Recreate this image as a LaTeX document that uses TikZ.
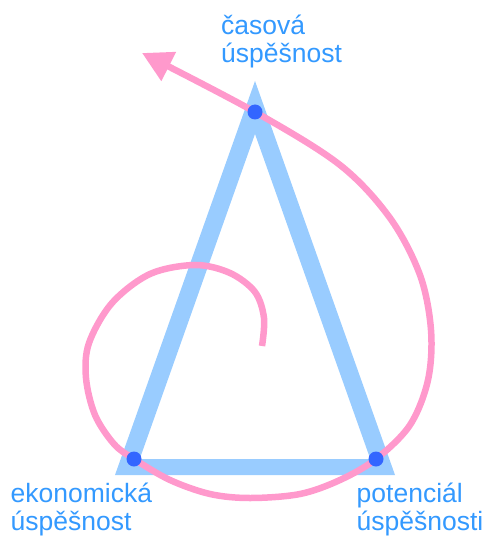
\documentclass[tikz,border=0pt]{standalone}
\usepackage{fontspec}
\setmainfont{Liberation Sans}
\usepackage{xcolor}
\usetikzlibrary{arrows.meta}
\definecolor{barblue}{HTML}{99CCFF}
\definecolor{dotblue}{HTML}{3366FF}
\definecolor{txtblue}{HTML}{3399FF}
\definecolor{spiralpink}{HTML}{FF99CC}

\begin{document}
\begin{tikzpicture}[x=1pt, y=-1pt,
  label_txt/.style={anchor=base west, align=left, inner sep=0pt, text=txtblue, font=\fontsize{26.5}{28}\selectfont},
  vertex/.style={circle, fill=dotblue, minimum size=15pt, inner sep=0pt},
  spiral/.style={draw=spiralpink, line width=6.5pt, -{Triangle[length=30pt, width=31pt]}}
]
  \useasboundingbox (0,0) rectangle (488,537);

  % triangle frame
  \fill[barblue, even odd rule] (255,81) -- (395,475) -- (115,475) -- cycle
    (255,134) -- (370.3,459) -- (139.7,459) -- cycle;

  \coordinate (top) at (255,112);
  \coordinate (left) at (134,459);
  \coordinate (right) at (376,459);

  % spiral
  \draw[spiral] plot[smooth, tension=0.55] coordinates {
    (262,346) (264,318) (255,292) (230,273) (195,265) (150,274) (112,303)
    (89,343) (86,378) (95,415) (114,444) (left) (170,480) (210,494) (250,498)
    (300,494) (340,480) (right) (410,425) (428,380) (431,330) (420,275)
    (390,218) (340,165) (top) (142,53)};

  \node[vertex] (n_time) at (top) {};
  \node[vertex] (n_econ) at (left) {};
  \node[vertex] (n_pot) at (right) {};

  \node[label_txt] (l_time) at (221,63) {časová\\úspěšnost};
  \node[label_txt] (l_econ) at (10.5,530) {ekonomická\\úspěšnost};
  \node[label_txt] (l_pot) at (356.5,530) {potenciál\\úspěšnosti};
\end{tikzpicture}
\end{document}
